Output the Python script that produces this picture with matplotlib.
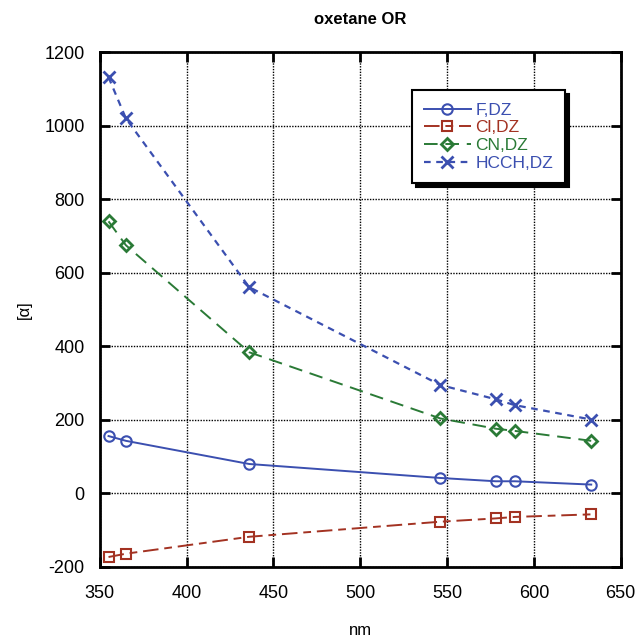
import matplotlib
matplotlib.use("Agg")
import matplotlib.pyplot as plt

plt.rcParams['font.family'] = ['Liberation Sans', 'DejaVu Sans']
plt.rcParams['axes.unicode_minus'] = False

wavelength = [355, 365, 436, 546, 578, 589, 633]
f_dz = [156, 143, 80, 42, 33, 33, 24]
cl_dz = [-173, -164, -118, -77, -68, -64, -57]
cn_dz = [740, 675, 384, 204, 176, 170, 143]
hcch_dz = [1132, 1020, 561, 295, 256, 240, 201]

x_ticks = [350, 400, 450, 500, 550, 600, 650]
y_ticks = [-200, 0, 200, 400, 600, 800, 1000, 1200]

blue = '#3b4fb0'
red = '#a33222'
green = '#2a7a36'

fig = plt.figure(figsize=(6.36, 6.37), dpi=100)
ax = fig.add_axes([0.157, 0.110, 0.819, 0.808])

ax.plot(wavelength, f_dz, color=blue, lw=1.4, ls='-', marker='o', ms=7.5,
        mfc='none', mec=blue, mew=1.5, label='F,DZ')
ax.plot(wavelength, cl_dz, color=red, lw=1.4, ls=(0, (8, 3, 4, 3)), marker='s', ms=7,
        mfc='none', mec=red, mew=1.5, label='Cl,DZ')
ax.plot(wavelength, cn_dz, color=green, lw=1.4, ls=(0, (7, 4)), marker='D', ms=6,
        mfc='none', mec=green, mew=2.0, label='CN,DZ')
ax.plot(wavelength, hcch_dz, color=blue, lw=1.6, ls=(0, (3, 2.5)), marker='x', ms=8,
        mec=blue, mew=2.0, label='HCCH,DZ')

ax.set_xlim(350, 650)
ax.set_ylim(-200, 1200)
ax.set_xticks(x_ticks)
ax.set_yticks(y_ticks)
ax.grid(True, color='black', ls=(0, (1, 1)), lw=1.0)
ax.tick_params(direction='in', length=7, width=2, top=True, right=True,
               labelsize=13)
ax.tick_params(axis='x', pad=13)
ax.tick_params(axis='y', pad=11)
for s in ax.spines.values():
    s.set_linewidth(2)

ax.set_title('oxetane OR', fontsize=12, fontweight='bold', pad=20)
ax.set_xlabel('nm', fontsize=12, labelpad=15)
ax.set_ylabel('[α]', fontsize=12, labelpad=9)

leg = ax.legend(loc='upper left', bbox_to_anchor=(0.599, 0.926), fancybox=False,
                shadow={'color': 'black', 'alpha': 1, 'ox': 3, 'oy': -3},
                frameon=True, fontsize=12.5, handlelength=2.7, handletextpad=0.25,
                labelspacing=0.15, borderpad=0.7, borderaxespad=0)
leg.get_frame().set_edgecolor('black')
leg.get_frame().set_linewidth(1.5)
leg.get_frame().set_alpha(1)
for txt, c in zip(leg.get_texts(), [blue, red, green, blue]):
    txt.set_color(c)

fig.savefig('out.png', dpi=100)
